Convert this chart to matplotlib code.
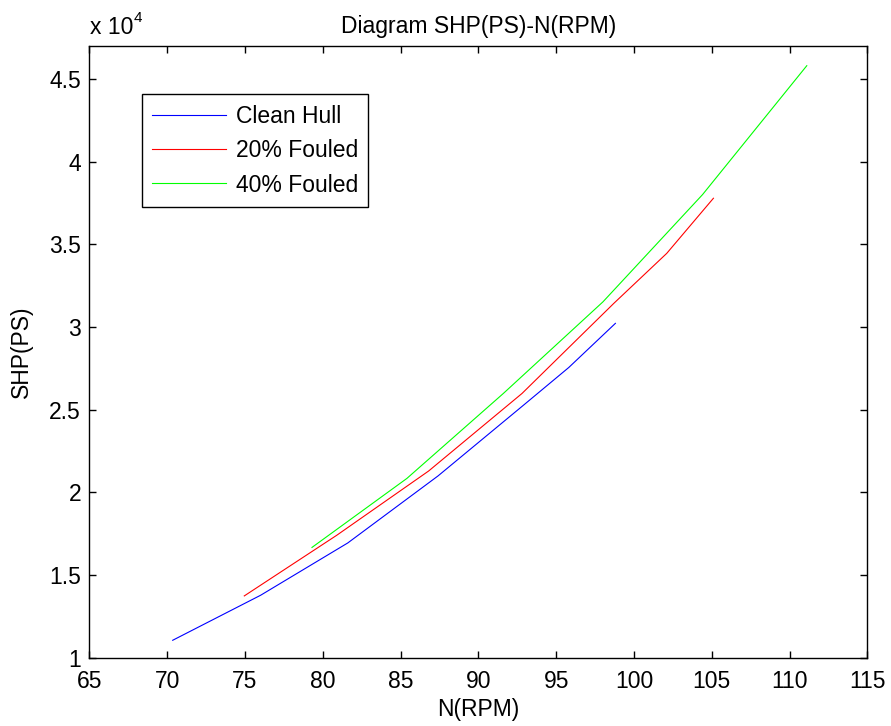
import matplotlib
matplotlib.use("Agg")
import matplotlib.pyplot as plt
from matplotlib.ticker import FuncFormatter, MultipleLocator

from matplotlib import rcParams
rcParams['font.family'] = 'sans-serif'
rcParams['font.sans-serif'] = ['Liberation Sans', 'DejaVu Sans']
rcParams['font.size'] = 16.5

# data
clean_n = [70.35, 76.0, 81.6, 87.4, 92.9, 95.8, 98.8]
clean_shp = [11070, 13790, 16950, 21000, 25280, 27550, 30220]

fouled20_n = [74.95, 80.9, 86.8, 92.8, 98.7, 102.1, 105.1]
fouled20_shp = [13750, 17420, 21300, 25985, 31430, 34450, 37780]

fouled40_n = [79.3, 85.4, 91.6, 98.0, 104.4, 111.1]
fouled40_shp = [16680, 20850, 25985, 31520, 38000, 45790]

labels = ['Clean Hull', '20% Fouled', '40% Fouled']

fig = plt.figure(figsize=(8.91, 7.26), dpi=100)
ax = fig.add_axes([0.1004, 0.0937, 0.8732, 0.8434])

ax.plot(clean_n, clean_shp, color='#0000ff', linewidth=0.8, label=labels[0])
ax.plot(fouled20_n, fouled20_shp, color='#ff0000', linewidth=0.8, label=labels[1])
ax.plot(fouled40_n, fouled40_shp, color='#00ff00', linewidth=0.8, label=labels[2])

ax.set_xlim(65, 115)
ax.set_ylim(10000, 47000)
ax.xaxis.set_major_locator(MultipleLocator(5))
ax.yaxis.set_major_locator(MultipleLocator(5000))
ax.yaxis.set_major_formatter(FuncFormatter(lambda v, p: '%g' % (v / 1e4)))

ax.tick_params(direction='in', length=5, width=1, top=True, right=True)
ax.tick_params(axis='x', pad=9)
ax.tick_params(axis='y', pad=6)
for s in ax.spines.values():
    s.set_linewidth(1)

ax.set_title('Diagram SHP(PS)-N(RPM)', fontsize=16.5, pad=9)
ax.set_xlabel('N(RPM)', labelpad=3)
ax.set_ylabel('SHP(PS)', labelpad=12)

# MATLAB style exponent label
fig.text(90 / 891, 1 - 34 / 726, 'x 10', fontsize=16.5, ha='left', va='baseline')
fig.text(134 / 891, 1 - 22 / 726, '4', fontsize=11, ha='left', va='baseline')

leg = ax.legend(loc='upper left', bbox_to_anchor=(0.067, 0.9206), borderaxespad=0,
                fancybox=False, edgecolor='black', framealpha=1,
                handlelength=3.25, handletextpad=0.4, borderpad=0.45,
                labelspacing=0.5)
leg.get_frame().set_linewidth(1)

plt.savefig("out.png", dpi=100)
